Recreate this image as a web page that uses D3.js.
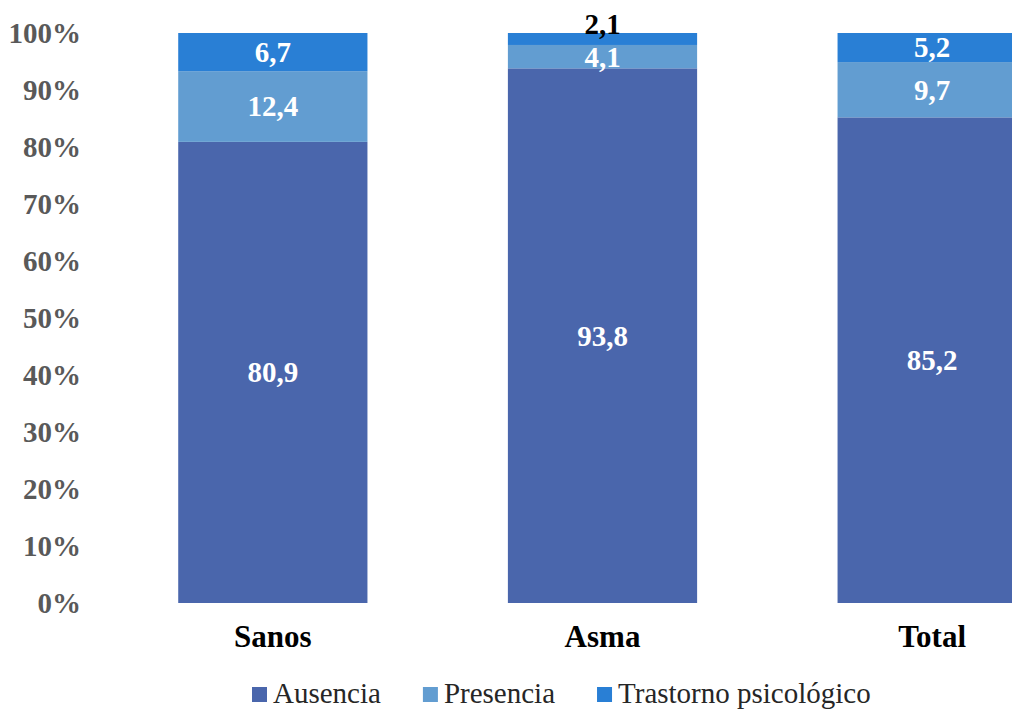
<!DOCTYPE html>
<html>
<head>
<meta charset="utf-8">
<script src="https://cdn.jsdelivr.net/npm/d3@7"></script>
<style>
  body { margin: 0; background: #fff; }
  svg { display: block; font-family: "Liberation Serif", "Times New Roman", serif; }
</style>
</head>
<body>
<div id="chart"></div>
<script>
// data
const categories = ['Sanos', 'Asma', 'Total']
const seriesNames = ['Ausencia', 'Presencia', 'Trastorno psicológico']
const ausencia = [80.9, 93.8, 85.2]
const presencia = [12.4, 4.1, 9.7]
const trastorno = [6.7, 2.1, 5.2]
const yTicks = [0, 10, 20, 30, 40, 50, 60, 70, 80, 90, 100]

const colors = ['#4A66AC', '#629DD1', '#297FD5']

const width = 1012, height = 709
const svg = d3.select('#chart').append('svg')
  .attr('width', width)
  .attr('height', height)

let rows = categories.map((c, i) => ({
  cat: c,
  'Ausencia': ausencia[i],
  'Presencia': presencia[i],
  'Trastorno psicológico': trastorno[i]
}))

let stacked = d3.stack().keys(seriesNames)(rows)

// plot is clipped on the right like the original
let x = d3.scaleBand()
  .domain(categories)
  .range([108, 1097])
  .paddingInner(0.426)
  .paddingOuter(0.213)

let y = d3.scaleLinear()
  .domain([0, 100])
  .range([603, 33])

// y axis labels
let yAxis = d3.axisLeft(y)
  .tickValues(yTicks)
  .tickFormat(d => d + '%')
  .tickSize(0)
  .tickPadding(0)

svg.append('g')
  .attr('transform', 'translate(81,0)')
  .call(yAxis)
  .call(g => g.select('.domain').remove())
  .selectAll('text')
    .attr('font-family', '"Liberation Serif", serif')
    .attr('font-size', 29)
    .attr('font-weight', 'bold')
    .attr('fill', '#595959')
    .attr('dy', '0.34em')

// bars
let layer = svg.selectAll('.layer')
  .data(stacked)
  .enter().append('g')
    .attr('class', 'layer')
    .attr('fill', (d, i) => colors[i])

layer.selectAll('rect')
  .data(d => d)
  .enter().append('rect')
    .attr('x', d => x(d.data.cat))
    .attr('width', x.bandwidth())
    .attr('y', d => y(Math.min(100, d[1])))
    .attr('height', d => y(d[0]) - y(Math.min(100, d[1])))

// value labels
layer.each(function(s, si) {
  d3.select(this).selectAll('text')
    .data(s)
    .enter().append('text')
      .attr('x', d => x(d.data.cat) + x.bandwidth() / 2)
      .attr('y', d => {
        let v = d[1] - d[0]
        // thin top segment gets its label pushed above the bar
        if (si === 2 && v < 3) return y(100) - 9
        return y((d[0] + d[1]) / 2)
      })
      .attr('dy', '0.34em')
      .attr('text-anchor', 'middle')
      .attr('font-size', 29)
      .attr('font-weight', 'bold')
      .attr('fill', d => (si === 2 && d[1] - d[0] < 3) ? '#000' : '#fff')
      .text(d => d3.format('.1f')(d[1] - d[0]).replace('.', ','))
})

// category labels
svg.append('g')
  .selectAll('text')
  .data(categories)
  .enter().append('text')
    .attr('x', d => x(d) + x.bandwidth() / 2)
    .attr('y', 647)
    .attr('text-anchor', 'middle')
    .attr('font-size', 31)
    .attr('font-weight', 'bold')
    .attr('fill', '#000')
    .text(d => d)

// legend
let legend = svg.append('g').attr('transform', 'translate(252,0)')
let lx = 0
seriesNames.forEach((name, i) => {
  let item = legend.append('g').attr('transform', `translate(${lx},0)`)
  item.append('rect')
    .attr('x', 0)
    .attr('y', 687)
    .attr('width', 15)
    .attr('height', 15)
    .attr('fill', colors[i])
  let t = item.append('text')
    .attr('x', 21)
    .attr('y', 703)
    .attr('font-size', 29)
    .attr('fill', '#262626')
    .text(name)
  lx += 21 + t.node().getComputedTextLength() + 42
})
</script>
</body>
</html>
